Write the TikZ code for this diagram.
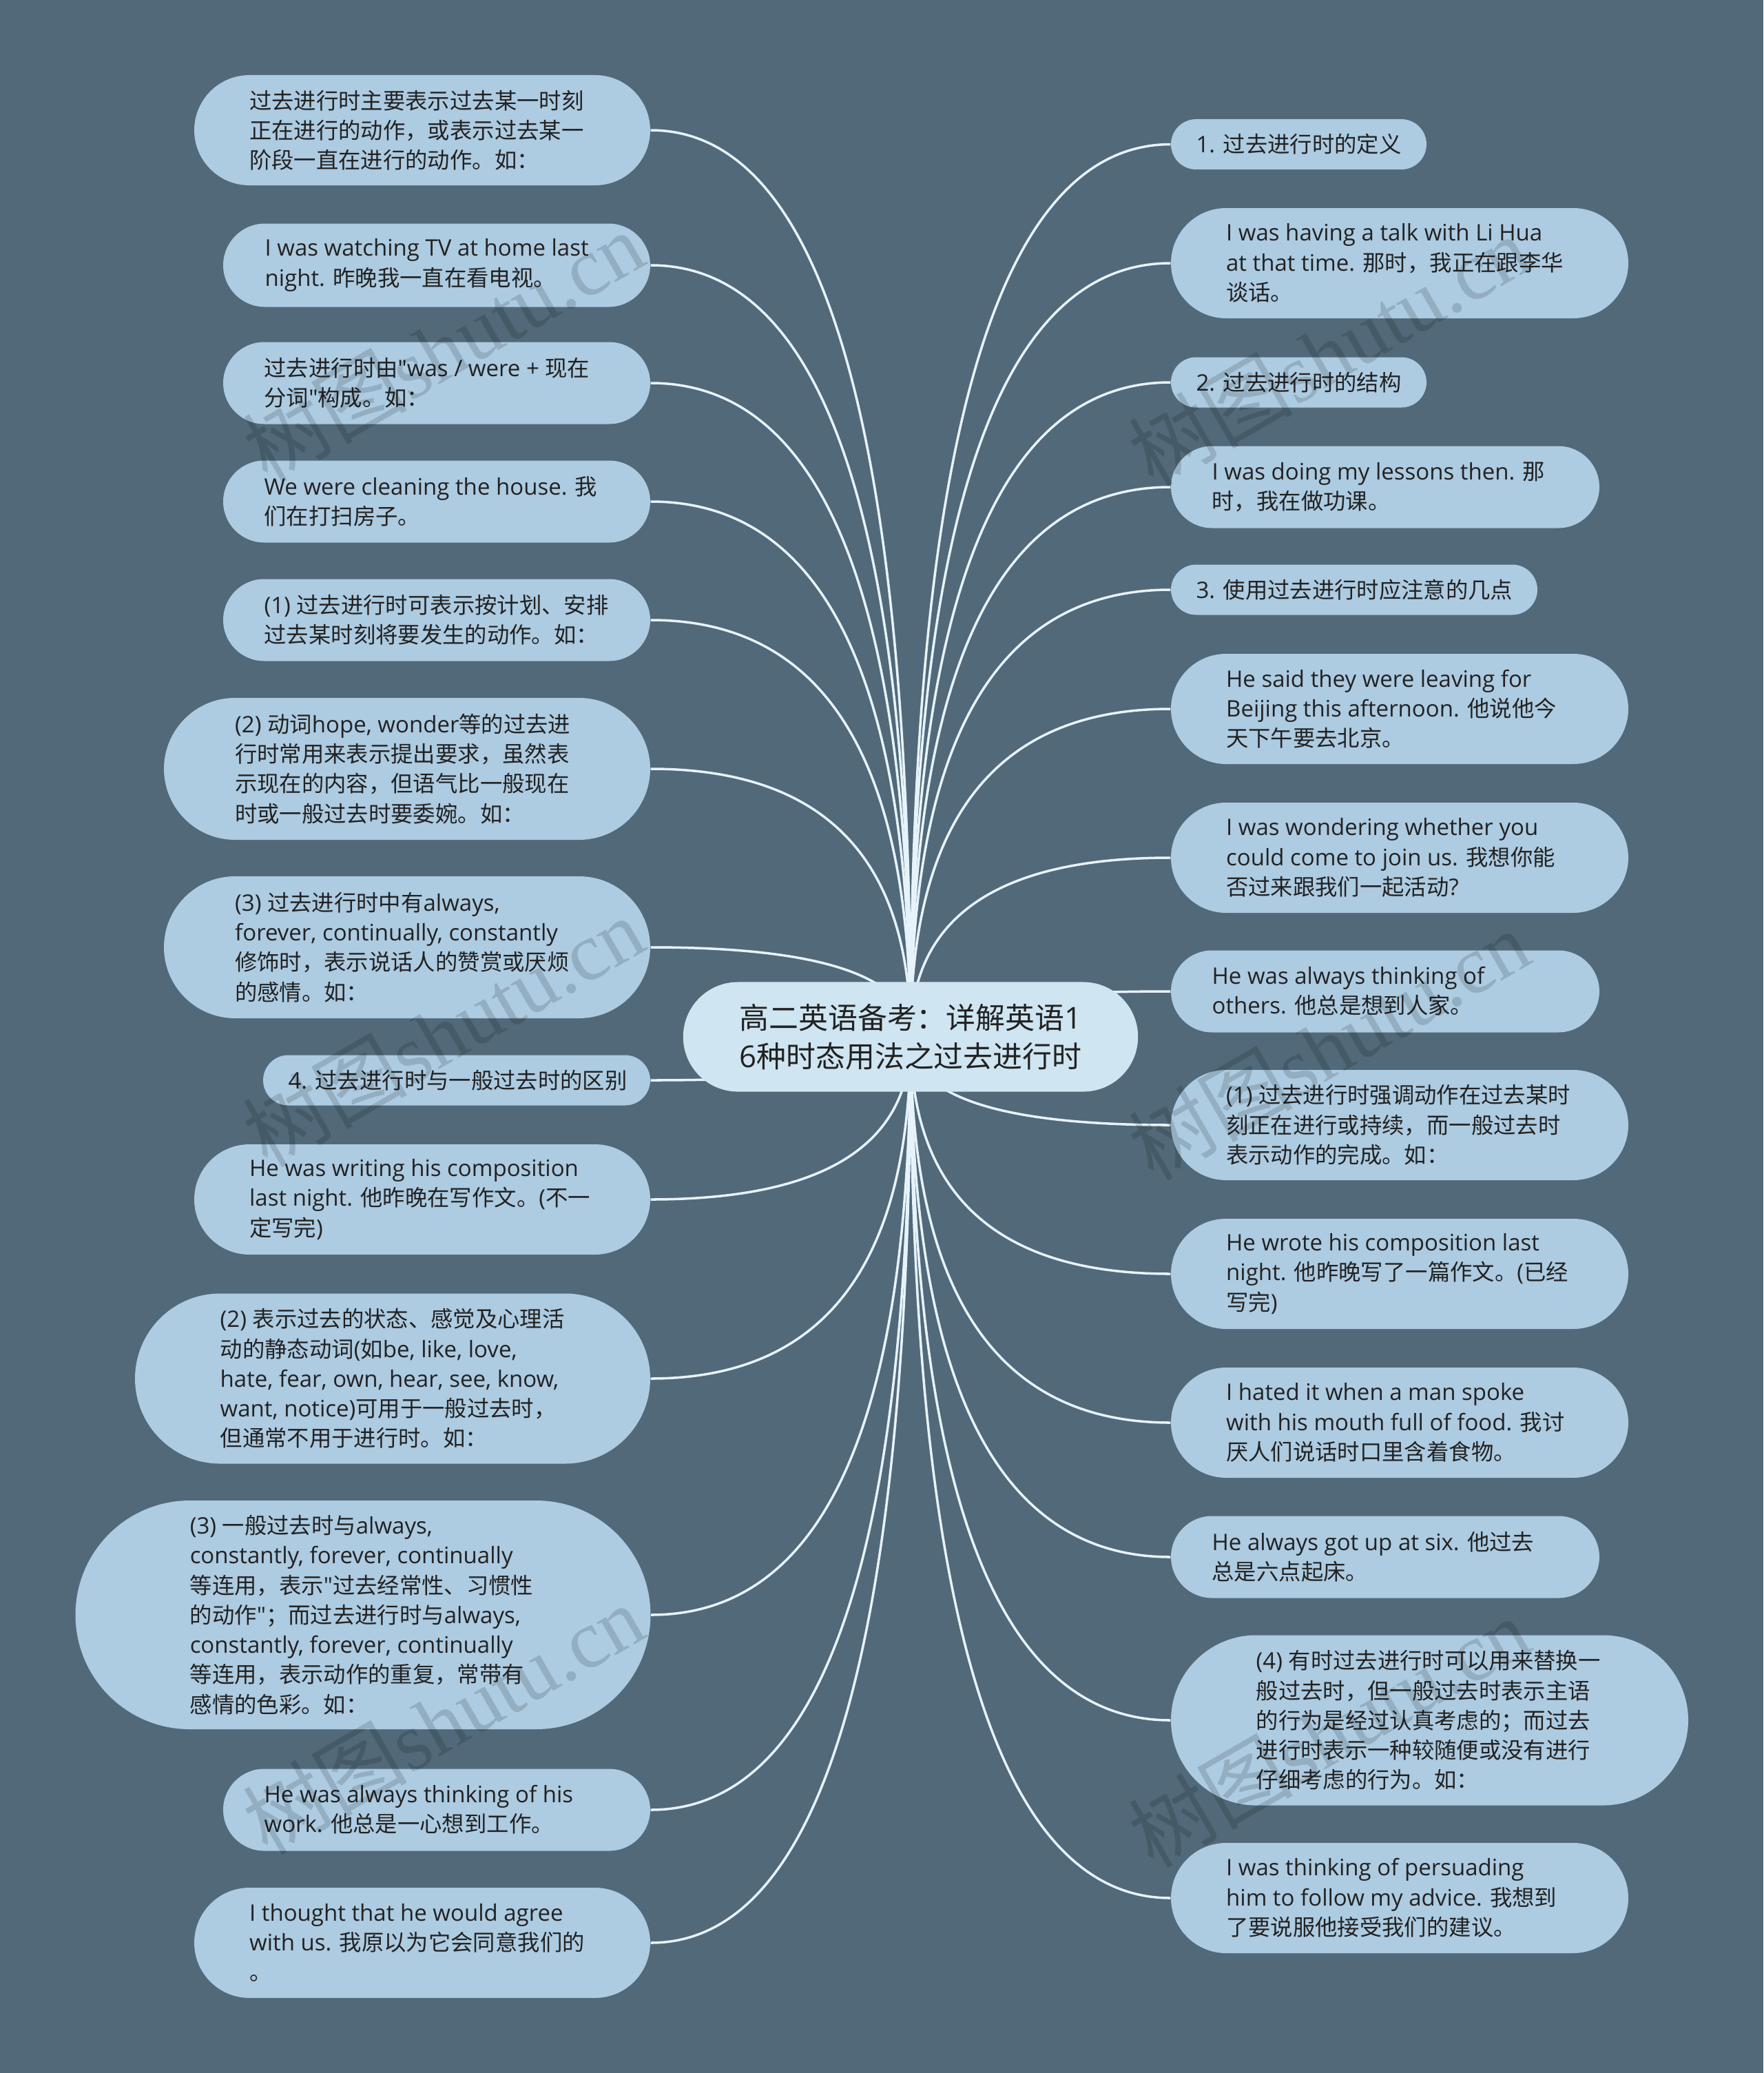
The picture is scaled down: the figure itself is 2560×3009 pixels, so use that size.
\documentclass[tikz,border=0pt]{standalone}
\usepackage{fontspec}
\setmainfont{Open Sans}[Scale=1.02]
\newfontfamily\latinfont{Open Sans}[Scale=1.02]
\newfontfamily\cjkfont{Noto Sans CJK SC}
\newfontfamily\wmserif{Liberation Serif}
\usetikzlibrary{calc}

% automatic switch between Latin and CJK fonts
\XeTeXinterchartokenstate=1
\newXeTeXintercharclass\cjkclass
\newcount\cjkc
\cjkc="3000 \loop \XeTeXcharclass\cjkc=\cjkclass \advance\cjkc by 1 \ifnum\cjkc<"3040 \repeat
\cjkc="4E00 \loop \XeTeXcharclass\cjkc=\cjkclass \advance\cjkc by 1 \ifnum\cjkc<"A000 \repeat
\cjkc="FF00 \loop \XeTeXcharclass\cjkc=\cjkclass \advance\cjkc by 1 \ifnum\cjkc<"FFF0 \repeat
\XeTeXinterchartoks 0 \cjkclass = {\cjkfont}
\XeTeXinterchartoks 4095 \cjkclass = {\cjkfont}
\XeTeXinterchartoks \cjkclass 0 = {\latinfont}
\XeTeXinterchartoks \cjkclass 4095 = {\latinfont}

\definecolor{bgcol}{HTML}{516979}
\definecolor{leafcol}{HTML}{ADCBE1}
\definecolor{rootcol}{HTML}{CFE5F1}
\definecolor{linecol}{HTML}{E6F3FA}
\definecolor{txtcol}{HTML}{222222}

\pgfdeclarelayer{bg}
\pgfsetlayers{bg,main}

\tikzset{
  leafbox/.style={fill=leafcol, draw=none, inner sep=0pt},
  leaftext/.style={inner sep=0pt, align=left, text=txtcol, font=\fontsize{9.2}{12.3}\selectfont},
  rootbox/.style={fill=rootcol, draw=none, inner sep=0pt, align=left, text=txtcol,
    font=\fontsize{12.2}{15.8}\selectfont},
  conn/.style={draw=linecol, line width=1pt},
  wmark/.style={inner sep=0pt, text=black, text opacity=0.14, rotate=30,
    font=\fontsize{34}{40}\selectfont}
}

% name, cx, cy, width, height, text
\newcommand\mmleaf[6]{%
  \node[leafbox, minimum width=#4*0.01cm, minimum height=#5*0.01cm, rounded corners=#5*0.005cm] (#1) at (#2,#3) {};
  \node[leaftext, anchor=west] (#1t) at ([xshift=#5*0.005cm]#1.west) {#6};
}
\newcommand\mmconnL[1]{%
  \draw[conn] (root.center) .. controls ($(root.center)!0.6667!(root.center |- #1.east)$)
    and ($(#1.east)!0.6667!(root.center |- #1.east)$) .. (#1.east);}
\newcommand\mmconnR[1]{%
  \draw[conn] (root.center) .. controls ($(root.center)!0.6667!(root.center |- #1.west)$)
    and ($(#1.west)!0.6667!(root.center |- #1.west)$) .. (#1.west);}

\begin{document}
\begin{tikzpicture}[x=0.01cm, y=-0.01cm]
\begin{pgfonlayer}{bg}
  \fill[bgcol] (0,0) rectangle (2560,3009);
\end{pgfonlayer}
\useasboundingbox (0,0) rectangle (2560,3009);

\node[rootbox, minimum width=6.6cm, minimum height=1.59cm, rounded corners=0.795cm] (root) at (1322,1505)
  {高二英语备考：详解英语1\\6种时态用法之过去进行时};

% left side
\mmleaf{L1}{613}{189}{662}{160}{过去进行时主要表示过去某一时刻\\正在进行的动作，或表示过去某一\\阶段一直在进行的动作。如：}
\mmleaf{L2}{634}{385}{620}{121}{I was watching TV at home last\\night. 昨晚我一直在看电视。}
\mmleaf{L3}{634}{556}{620}{119}{过去进行时由"was / were + 现在\\分词"构成。如：}
\mmleaf{L4}{634}{728}{620}{119}{We were cleaning the house. 我\\们在打扫房子。}
\mmleaf{L5}{634}{900}{620}{119}{(1) 过去进行时可表示按计划、安排\\过去某时刻将要发生的动作。如：}
\mmleaf{L6}{591}{1116}{706}{206}{(2) 动词hope, wonder等的过去进\\行时常用来表示提出要求，虽然表\\示现在的内容，但语气比一般现在\\时或一般过去时要委婉。如：}
\mmleaf{L7}{591}{1375}{706}{206}{(3) 过去进行时中有always,\\forever, continually, constantly\\修饰时，表示说话人的赞赏或厌烦\\的感情。如：}
\mmleaf{L8}{663}{1568}{562}{73}{4. 过去进行时与一般过去时的区别}
\mmleaf{L9}{613}{1741}{662}{160}{He was writing his composition\\last night. 他昨晚在写作文。(不一\\定写完)}
\mmleaf{L10}{570}{2001}{748}{247}{(2) 表示过去的状态、感觉及心理活\\动的静态动词(如be, like, love,\\hate, fear, own, hear, see, know,\\want, notice)可用于一般过去时，\\但通常不用于进行时。如：}
\mmleaf{L11}{527}{2344}{835}{332}{(3) 一般过去时与always,\\constantly, forever, continually\\等连用，表示"过去经常性、习惯性\\的动作"；而过去进行时与always,\\constantly, forever, continually\\等连用，表示动作的重复，常带有\\感情的色彩。如：}
\mmleaf{L12}{634}{2627}{620}{119}{He was always thinking of his\\work. 他总是一心想到工作。}
\mmleaf{L13}{613}{2820}{662}{160}{I thought that he would agree\\with us. 我原以为它会同意我们的\\。}

% right side
\mmleaf{R1}{1885.5}{209.5}{371}{73}{1. 过去进行时的定义}
\mmleaf{R2}{2032}{382}{664}{160}{I was having a talk with Li Hua\\at that time. 那时，我正在跟李华\\谈话。}
\mmleaf{R3}{1885.5}{555}{371}{73}{2. 过去进行时的结构}
\mmleaf{R4}{2011}{707}{622}{119}{I was doing my lessons then. 那\\时，我在做功课。}
\mmleaf{R5}{1966}{856}{532}{73}{3. 使用过去进行时应注意的几点}
\mmleaf{R6}{2032}{1029}{664}{160}{He said they were leaving for\\Beijing this afternoon. 他说他今\\天下午要去北京。}
\mmleaf{R7}{2032}{1245}{664}{160}{I was wondering whether you\\could come to join us. 我想你能\\否过来跟我们一起活动?}
\mmleaf{R8}{2011}{1439}{622}{119}{He was always thinking of\\others. 他总是想到人家。}
\mmleaf{R9}{2032}{1633}{664}{160}{(1) 过去进行时强调动作在过去某时\\刻正在进行或持续，而一般过去时\\表示动作的完成。如：}
\mmleaf{R10}{2032}{1849}{664}{160}{He wrote his composition last\\night. 他昨晚写了一篇作文。(已经\\写完)}
\mmleaf{R11}{2032}{2065}{664}{160}{I hated it when a man spoke\\with his mouth full of food. 我讨\\厌人们说话时口里含着食物。}
\mmleaf{R12}{2011}{2260}{622}{119}{He always got up at six. 他过去\\总是六点起床。}
\mmleaf{R13}{2075.5}{2497}{751}{247}{(4) 有时过去进行时可以用来替换一\\般过去时，但一般过去时表示主语\\的行为是经过认真考虑的；而过去\\进行时表示一种较随便或没有进行\\仔细考虑的行为。如：}
\mmleaf{R14}{2032}{2755}{664}{160}{I was thinking of persuading\\him to follow my advice. 我想到\\了要说服他接受我们的建议。}

\begin{pgfonlayer}{bg}
  \foreach \n in {L1,L2,L3,L4,L5,L6,L7,L8,L9,L10,L11,L12,L13} {\mmconnL{\n}}
  \foreach \n in {R1,R2,R3,R4,R5,R6,R7,R8,R9,R10,R11,R12,R13,R14} {\mmconnR{\n}}
\end{pgfonlayer}

% watermarks
\node[wmark] (wm1) at (643,503) {{\cjkfont 树图}{\wmserif shutu.cn}};
\node[wmark] (wm2) at (1929,509) {{\cjkfont 树图}{\wmserif shutu.cn}};
\node[wmark] (wm3) at (643,1497) {{\cjkfont 树图}{\wmserif shutu.cn}};
\node[wmark] (wm4) at (1929,1516) {{\cjkfont 树图}{\wmserif shutu.cn}};
\node[wmark] (wm5) at (643,2495) {{\cjkfont 树图}{\wmserif shutu.cn}};
\node[wmark] (wm6) at (1929,2514) {{\cjkfont 树图}{\wmserif shutu.cn}};
\end{tikzpicture}
\end{document}
